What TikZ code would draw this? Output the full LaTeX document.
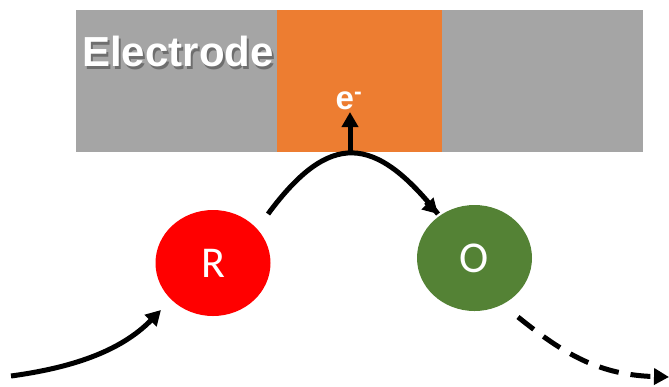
\documentclass[tikz,border=0pt]{standalone}
\usepackage{fontspec}
\setmainfont{Liberation Sans}
\newfontfamily\calib{Carlito}
\usetikzlibrary{arrows.meta,shapes.geometric}
\definecolor{electgray}{HTML}{A5A5A5}
\definecolor{electorange}{HTML}{ED7D31}
\definecolor{redspecies}{HTML}{FF0000}
\definecolor{oxspecies}{HTML}{548235}
\definecolor{textshadow}{HTML}{6E6E6E}
\tikzset{
  species/.style={ellipse, minimum width=115pt, minimum height=106pt, inner sep=0pt,
    text=white, font=\calib\fontsize{44}{44}\selectfont},
  flow/.style={line width=5pt, -{Triangle[length=15pt,width=16pt]}},
  dashflow/.style={flow, dash pattern=on 20pt off 12pt},
}
\begin{document}
\begin{tikzpicture}[x=1pt,y=-1pt]
  \useasboundingbox (0,0) rectangle (669,386);
  % electrode bar with the reaction site in orange
  \fill[electgray] (76,10) rectangle (643,152);
  \fill[electorange] (277,10) rectangle (442,152);
  % label with a soft drop shadow
  \node (lbl) [text=white, font=\bfseries\fontsize{42}{42}\selectfont] at (178,53)
    {\makebox[0pt][l]{\hspace{2pt}\raisebox{-2.5pt}{\color{textshadow}Electrode}}Electrode};
  \node (el) [text=white, font=\bfseries\fontsize{33}{33}\selectfont, inner sep=0pt, anchor=base] at (349,109) {e\textsuperscript{-}};
  % reduced and oxidised species
  \node (R) [species, fill=redspecies] at (213,263) {R};
  \node (O) [species, fill=oxspecies] at (474.5,258) {O};
  % pathways
  \coordinate (start) at (11,376);
  \coordinate (inTip) at (161,310);
  \coordinate (rOut) at (268,214);
  \coordinate (oIn) at (438,214);
  \coordinate (peak) at (350,153);
  \coordinate (eTip) at (350,112);
  \coordinate (oOut) at (518,317);
  \coordinate (end) at (669,377);
  \draw[flow] (start) .. controls (70,368) and (120,352) .. (inTip);
  \draw[line width=5pt] (rOut) .. controls (330,130) and (375,135) .. (oIn);
  \draw[flow] (oIn) ++(-12,-12) -- (oIn);
  \draw[flow] (peak) -- (eTip);
  \draw[dashflow] (oOut) .. controls (565,355) and (600,375) .. (end);
\end{tikzpicture}
\end{document}
